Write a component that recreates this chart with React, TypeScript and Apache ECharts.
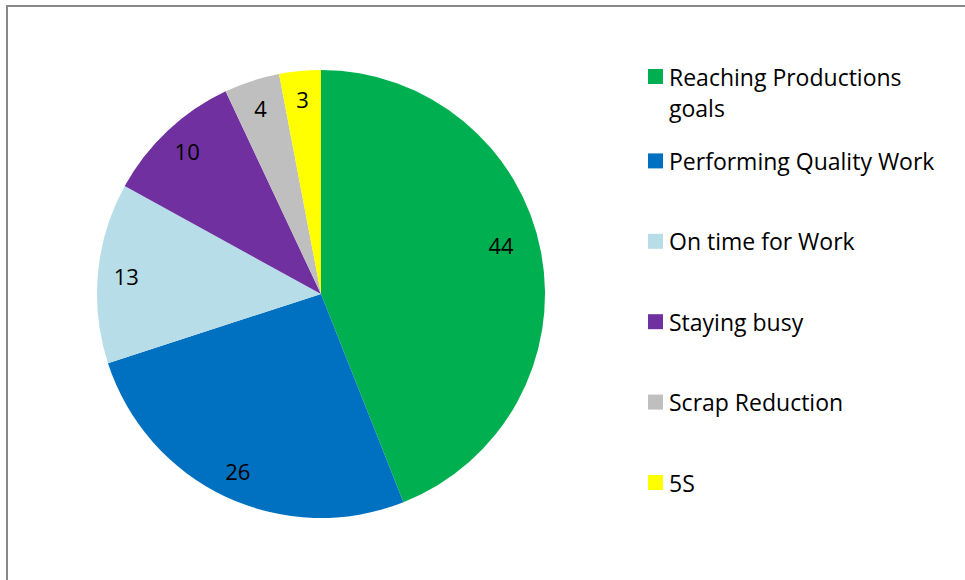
import React, { useEffect, useRef } from "react";
import * as echarts from "echarts";

const categories = [
  "Reaching Productions goals",
  "Performing Quality Work",
  "On time for Work",
  "Staying busy",
  "Scrap Reduction",
  "5S",
];
const values = [44, 26, 13, 10, 4, 3];
const colors = ["#00B050", "#0070C0", "#B7DEE8", "#7030A0", "#BFBFBF", "#FFFF00"];
const legendLabels = [
  "Reaching Productions\ngoals",
  "Performing Quality Work",
  "On time for Work",
  "Staying busy",
  "Scrap Reduction",
  "5S",
];

const FONT = "'Open Sans', sans-serif";

export default function App() {
  const ref = useRef<HTMLDivElement>(null);
  useEffect(() => {
    if (!ref.current) return;
    const chart = echarts.init(ref.current, undefined, { renderer: "svg" });
    const data = categories.map((name, i) => ({
      name,
      value: values[i],
      itemStyle: { color: colors[i] },
    }));
    const legends = categories.map((name, i) => {
      const multi = legendLabels[i].includes("\n");
      return {
        data: [name],
        left: 648,
        top: multi ? 69 - 39 : 69 + i * 80.4,
        padding: 0,
        itemWidth: 15,
        itemHeight: 15,
        itemGap: 0,
        icon: "rect",
        selectedMode: false,
        formatter: () => (multi ? "\n" + legendLabels[i] : legendLabels[i]),
        textStyle: {
          fontFamily: FONT,
          fontSize: 23,
          color: "#000",
          lineHeight: multi ? 31 : 15,
          padding: [0, 0, 0, 1],
        },
      };
    });
    chart.setOption({
      animation: false,
      backgroundColor: "#fff",
      legend: legends,
      graphic: [
        {
          type: "rect",
          shape: { x: 7, y: 6, width: 1000, height: 700 },
          style: { fill: "none", stroke: "#898989", lineWidth: 2 },
          silent: true,
        },
      ],
      series: [
        {
          type: "pie",
          center: [321, 294],
          radius: [0, 224],
          startAngle: 90,
          clockwise: true,
          label: { show: false },
          labelLine: { show: false },
          emphasis: { disabled: true },
          itemStyle: { borderWidth: 0 },
          data,
        },
        {
          type: "pie",
          center: [321, 294],
          radius: [161, 224],
          startAngle: 90,
          clockwise: true,
          silent: true,
          legendHoverLink: false,
          itemStyle: { color: "rgba(0,0,0,0)", borderWidth: 0 },
          label: {
            show: true,
            position: "inside",
            formatter: "{c}",
            fontFamily: FONT,
            fontSize: 22,
            color: "#000",
          },
          labelLine: { show: false },
          emphasis: { disabled: true },
          data: categories.map((name, i) => ({
            name: name + " ",
            value: values[i],
            label: i === 0 ? { offset: [-12, -12] } : undefined,
          })),
        },
      ],
    });
    return () => chart.dispose();
  }, []);
  return (
    <div
      ref={ref}
      style={{ position: "absolute", left: 0, top: 0, width: 965, height: 580 }}
    />
  );
}
